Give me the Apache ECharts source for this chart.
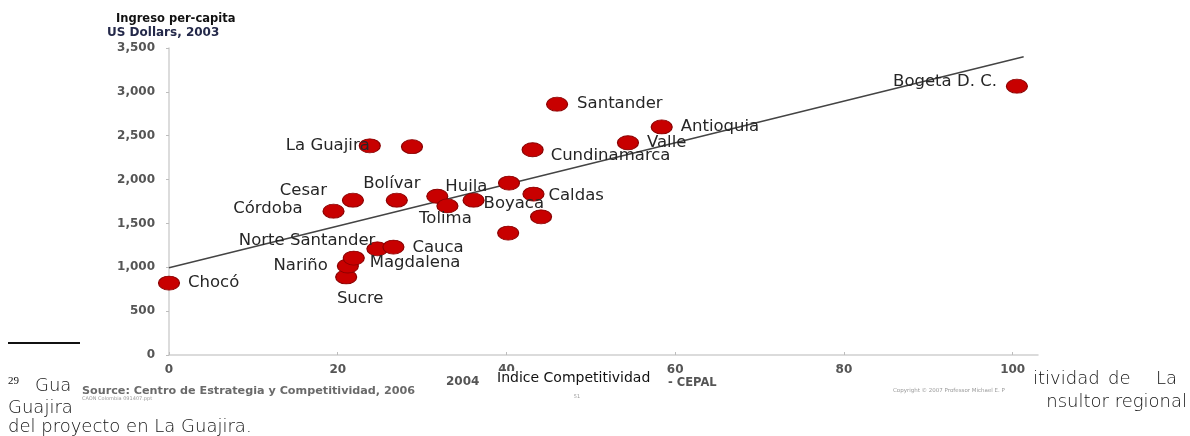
<!DOCTYPE html>
<html>
<head>
<meta charset="utf-8">
<script src="https://cdn.jsdelivr.net/npm/echarts@6/dist/echarts.min.js"></script>
<style>
  html, body { margin: 0; padding: 0; background: #fff; }
  #chart { width: 1190px; height: 436px; }
</style>
</head>
<body>
<div id="chart"></div>
<script>
// ---- data ----
const names = ['Chocó', 'Sucre', 'Nariño', 'Magdalena', 'Norte Santander', 'Cauca',
  'Córdoba', 'Cesar', 'Bolívar', 'Huila', 'Tolima', 'Boyaca', '', 'Caldas', '', '',
  'La Guajira', '', 'Cundinamarca', 'Santander', 'Antioquia', 'Valle', 'Bogeta D. C.'];
const competitividad = [0, 21.0, 21.2, 21.9, 24.7, 26.6,
  19.5, 21.8, 27.0, 31.8, 33.0, 36.1, 40.3, 43.2, 44.1, 40.2,
  23.8, 28.8, 43.1, 46.0, 58.4, 54.4, 100.5];
const ingreso = [820, 890, 1015, 1105, 1210, 1230,
  1640, 1765, 1765, 1810, 1700, 1765, 1960, 1835, 1575, 1390,
  2385, 2375, 2340, 2860, 2600, 2420, 3065];
const trendX = [0, 101.3];
const trendY = [995, 3400];
const xTicks = [0, 20, 40, 60, 80, 100];

// ---- label placement (style, kept apart from data) ----
const labelPlace = {
  'Chocó': ['left', 19, 0],
  'Sucre': ['center', 14, 22],
  'Nariño': ['right', -20, 0],
  'Magdalena': ['left', 16, 5],
  'Norte Santander': ['right', -2, -8],
  'Cauca': ['left', 19, 1],
  'Córdoba': ['right', -31, -2],
  'Cesar': ['right', -26, -9],
  'Bolívar': ['center', -5, -16],
  'Huila': ['left', 8, -10],
  'Tolima': ['center', -2, 13],
  'Boyaca': ['left', 10, 4],
  'Caldas': ['left', 15, 2],
  'La Guajira': ['right', 0, 0],
  'Cundinamarca': ['left', 18, 6],
  'Santander': ['left', 20, 0],
  'Antioquia': ['left', 19, 0],
  'Valle': ['left', 19, 0],
  'Bogeta D. C.': ['right', -20, -4]
};

const FONT = 'DejaVu Sans';
const scatterData = names.map((n, i) => {
  const p = labelPlace[n];
  return {
    name: n,
    value: [competitividad[i], ingreso[i]],
    label: p ? {
      show: true, position: 'inside', align: p[0], verticalAlign: 'middle',
      offset: [p[1], p[2]]
    } : { show: false }
  };
});

const chart = echarts.init(document.getElementById('chart'), null, { renderer: 'canvas' });

const docText = (x, y, text, extra) => Object.assign({
  type: 'text', x: x, y: y, z: 100,
  style: Object.assign({
    text: text, fill: '#111', fontFamily: FONT, fontWeight: 200, fontSize: 18,
    align: 'left', verticalAlign: 'middle'
  }, extra || {})
});

chart.setOption({
  animation: false,
  backgroundColor: '#fff',
  grid: { left: 169, right: 152, top: 48, bottom: 81, containLabel: false },
  xAxis: {
    type: 'value', min: 0, max: 103, interval: 20,
    splitLine: { show: false },
    axisLine: { show: true, lineStyle: { color: '#cfcfcf', width: 1.5 } },
    axisTick: { show: true, inside: true, length: 3, customValues: xTicks, lineStyle: { color: '#bdbdbd' } },
    axisLabel: {
      customValues: xTicks, margin: 9, color: '#555', fontFamily: FONT,
      fontWeight: 'bold', fontSize: 12
    }
  },
  yAxis: {
    type: 'value', min: 0, max: 3500, interval: 500,
    splitLine: { show: false },
    axisLine: { show: true, lineStyle: { color: '#d0d0d0', width: 1.5 } },
    axisTick: { show: true, length: 3, lineStyle: { color: '#bdbdbd' } },
    axisLabel: {
      margin: 14, color: '#555', fontFamily: FONT, fontWeight: 'bold', fontSize: 12,
      formatter: v => v.toLocaleString('en-US')
    }
  },
  series: [
    {
      type: 'line', z: 1, silent: true, symbol: 'none',
      data: trendX.map((x, i) => [x, trendY[i]]),
      lineStyle: { color: '#444', width: 1.5 }
    },
    {
      type: 'scatter', z: 2, symbol: 'circle', symbolSize: [21, 14],
      itemStyle: { color: '#c80000', borderColor: '#8a0000', borderWidth: 1, opacity: 1 },
      label: { formatter: '{b}', color: '#262626', fontFamily: FONT, fontSize: 16.5, opacity: 1 },
      data: scatterData
    }
  ],
  graphic: [
    { type: 'text', x: 116, y: 19, style: { text: 'Ingreso per-capita', fill: '#111', fontFamily: FONT, fontWeight: 'bold', fontSize: 11.5, verticalAlign: 'middle' } },
    { type: 'text', x: 107, y: 33, style: { text: 'US Dollars, 2003', fill: '#24294a', fontFamily: FONT, fontWeight: 'bold', fontSize: 12, verticalAlign: 'middle' } },
    { type: 'rect', z: 50, shape: { x: 487, y: 371, width: 176, height: 17 }, style: { fill: '#fff' } },
    { type: 'text', z: 60, x: 446, y: 382, style: { text: '2004', fill: '#555', fontFamily: FONT, fontWeight: 'bold', fontSize: 12, verticalAlign: 'middle' } },
    { type: 'text', z: 60, x: 497, y: 378, style: { text: 'Indice Competitividad', fill: '#111', fontFamily: FONT, fontSize: 14, verticalAlign: 'middle' } },
    { type: 'text', z: 60, x: 668, y: 383, style: { text: '- CEPAL', fill: '#555', fontFamily: FONT, fontWeight: 'bold', fontSize: 11.5, verticalAlign: 'middle' } },
    { type: 'text', x: 82, y: 391, style: { text: 'Source: Centro de Estrategia y Competitividad, 2006', fill: '#6a6a6a', fontFamily: FONT, fontWeight: 'bold', fontSize: 11.2, verticalAlign: 'middle' } },
    { type: 'text', x: 82, y: 399, style: { text: 'CAON Colombia 091407.ppt', fill: '#9a9a9a', fontFamily: FONT, fontSize: 5, verticalAlign: 'middle' } },
    { type: 'text', x: 577, y: 397, style: { text: '51', fill: '#9a9a9a', fontFamily: FONT, fontSize: 5, align: 'center', verticalAlign: 'middle' } },
    { type: 'text', x: 893, y: 391, style: { text: 'Copyright © 2007 Professor Michael E. P', fill: '#9a9a9a', fontFamily: FONT, fontSize: 5.5, verticalAlign: 'middle' } },
    // document footnote text around the pasted chart
    { type: 'rect', z: 100, shape: { x: 8, y: 342, width: 72, height: 2 }, style: { fill: '#111' } },
    docText(8, 381, '29', { fontFamily: 'Liberation Serif', fontWeight: 'normal', fontSize: 11 }),
    docText(35, 386, 'Gua'),
    docText(8, 408, 'Guajira'),
    docText(8, 427, 'del proyecto en La Guajira.'),
    docText(1033, 379, 'itividad'),
    docText(1108, 379, 'de'),
    docText(1177, 379, 'La', { align: 'right' }),
    docText(1187, 402, 'nsultor regional', { align: 'right' })
  ]
});
</script>
</body>
</html>
